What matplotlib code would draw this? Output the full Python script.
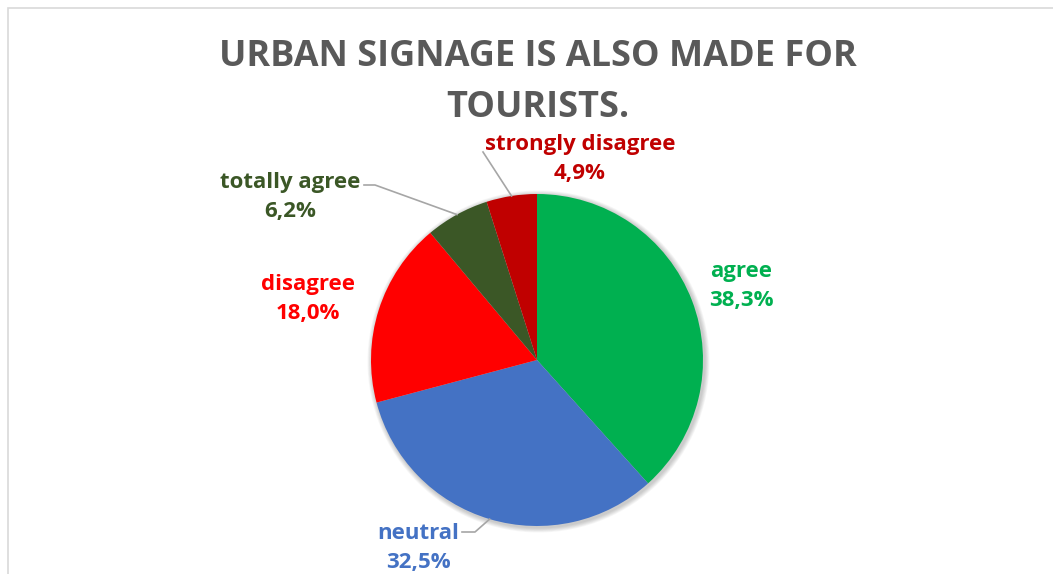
import numpy as np
import matplotlib
matplotlib.use("Agg")
import matplotlib.pyplot as plt
from matplotlib.patches import Circle, Rectangle

plt.rcParams['font.family'] = ['Open Sans', 'DejaVu Sans']

# survey answers, clockwise from 12 o'clock
categories = ["agree", "neutral", "disagree", "totally agree", "strongly disagree"]
shares = [38.3, 32.5, 18.0, 6.2, 4.9]
colors = ["#00B050", "#4472C4", "#FF0000", "#3B5726", "#C00000"]
title_lines = ["URBAN SIGNAGE IS ALSO MADE FOR", "TOURISTS."]

W, H = 1053, 574
fig = plt.figure(figsize=(W / 100, H / 100), dpi=100)
ax = fig.add_axes([0, 0, 1, 1])

cx, cy, r = 537, H - 360, 166

# soft drop shadow under the pie
for k in range(6):
    ax.add_patch(Circle((cx + 1.5, cy - 1.5), r + 1 + k * 0.8, color="black",
                        alpha=0.035, lw=0, zorder=1))

wedges, _ = ax.pie(shares, colors=colors, startangle=90, counterclock=False,
                   center=(cx, cy), radius=r, wedgeprops=dict(linewidth=0))
for w in wedges:
    w.set_zorder(2)

ax.set_xlim(0, W)
ax.set_ylim(0, H)
ax.set_aspect("equal")
ax.axis("off")

# chart area border
ax.add_patch(Rectangle((8, -20), W + 40, H - 8 + 20, fill=False,
                       edgecolor="#D9D9D9", lw=1.2, zorder=0))

for line, ty in zip(title_lines, (57, 108)):
    ax.text(W / 2 + 11, H - ty, line, ha="center", va="center",
            fontsize=26, fontweight="bold", color="#595959")

# label centres (pixels from top-left) and leader elbows
label_pos = {
    "agree": (741, 286),
    "neutral": (418, 548),
    "disagree": (308, 299),
    "totally agree": (290, 197),
    "strongly disagree": (580, 159),
}
elbows = {
    "neutral": [(462, 532), (475, 532)],
    "totally agree": [(364, 185), (375, 185)],
    "strongly disagree": [(483, 152)],
}

total = sum(shares)
start = 90.0
for name, val, col, w in zip(categories, shares, colors, wedges):
    sweep = 360 * val / total
    mid = np.deg2rad(start - sweep / 2)
    start -= sweep
    lx, ly = label_pos[name]
    ax.text(lx, H - ly, f"{name}\n{val:.1f}%".replace(".", ","), ha="center",
            va="center", fontsize=16, fontweight="bold", color=col,
            linespacing=1.55, zorder=4)
    if name in elbows:
        px = cx + r * np.cos(mid)
        py = cy + r * np.sin(mid)
        pts = elbows[name] + [(px, H - py)]
        xs = [p[0] for p in pts]
        ys = [H - p[1] for p in pts]
        ax.plot(xs, ys, color="#A6A6A6", lw=1.2, zorder=3)

fig.savefig("out.png", dpi=100, facecolor="white")
